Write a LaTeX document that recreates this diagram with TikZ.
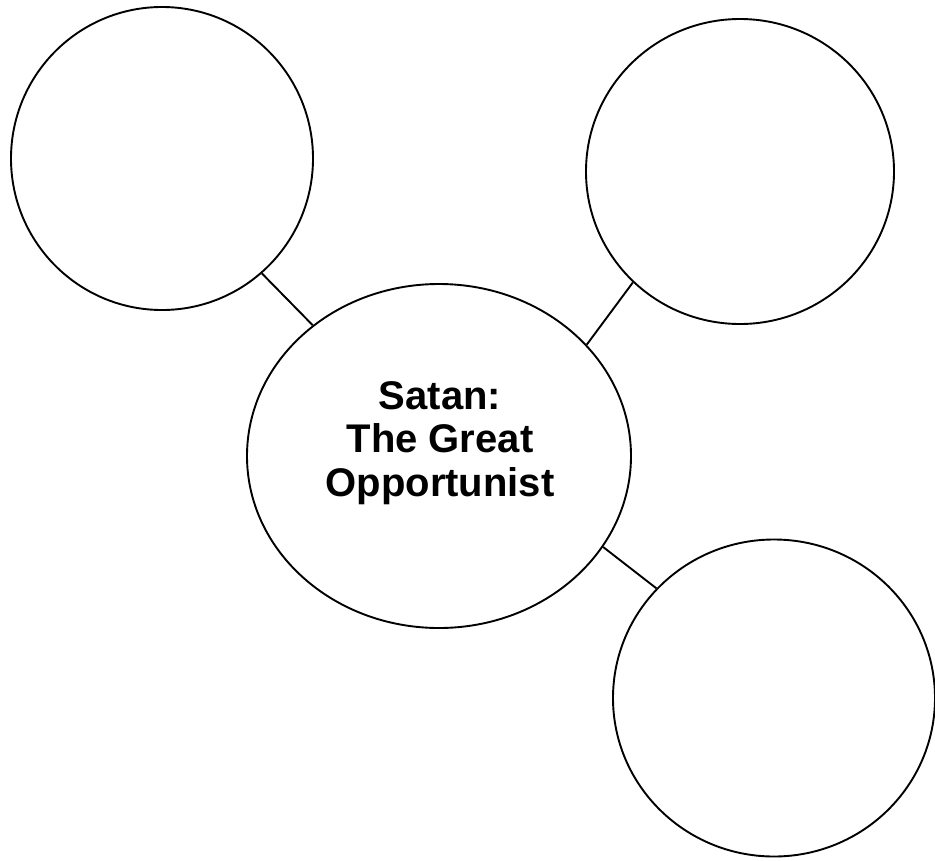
\documentclass[tikz,border=0pt]{standalone}
\usepackage{fontspec}
\setmainfont{Liberation Sans}
\usetikzlibrary{shapes.geometric}
\begin{document}
\begin{tikzpicture}[x=1pt,y=-1pt,
  bubble/.style={draw=black,line width=1.9pt,ellipse,inner sep=0pt,fill=white},
  link/.style={draw=black,line width=1.9pt},
  titletext/.style={anchor=base,inner sep=0pt,font=\fontsize{40}{43.5}\selectfont\bfseries}]
\useasboundingbox[fill=white] (0,0) rectangle (935,860);
\node[bubble,minimum width=302pt,minimum height=303pt] (tl) at (162,158.5) {};
\node[bubble,minimum width=308pt,minimum height=305pt] (tr) at (740,171.5) {};
\node[bubble,minimum width=384pt,minimum height=344pt] (c) at (439,456) {};
\node[bubble,minimum width=322pt,minimum height=317pt] (br) at (774,698) {};
\draw[link] (tl.-49) -- (c.134);
\draw[link] (tr.226) -- (c.37.6);
\draw[link] (c.-29.7) -- (br.137.8);
\node[titletext] (t1) at (440,409.3) {Satan:};
\node[titletext] (t2) at (440,452.8) {The Great};
\node[titletext] (t3) at (440,496.3) {Opportunist};
\end{tikzpicture}
\end{document}
